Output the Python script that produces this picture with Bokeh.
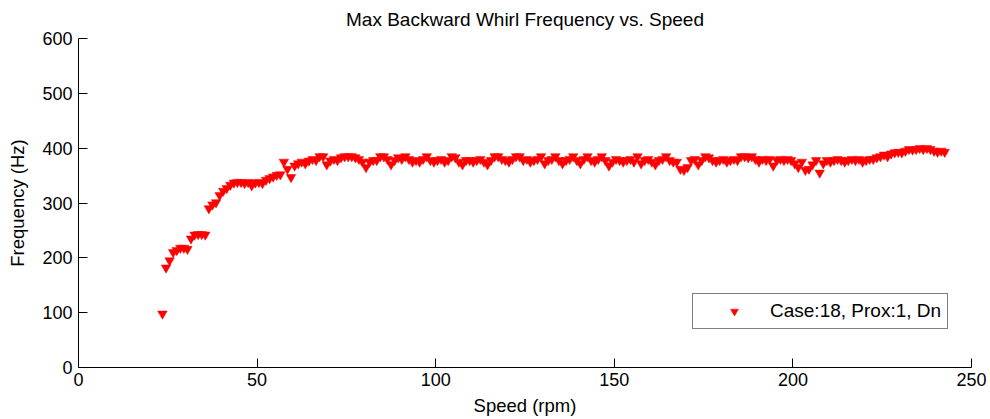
from bokeh.plotting import figure
from bokeh.models import Range1d, Legend, LegendItem, FixedTicker, ColumnDataSource
from bokeh.embed import file_html
from bokeh.resources import INLINE

title_text = "Max Backward Whirl Frequency vs. Speed"
x_label = "Speed (rpm)"
y_label = "Frequency (Hz)"
series_name = "Case:18, Prox:1, Dn"
x_ticks = [0, 50, 100, 150, 200, 250]
y_ticks = [0, 100, 200, 300, 400, 500, 600]

speed = [
    23.5, 24.5, 25.5, 26.5, 27.5, 28.5, 29.5, 30.5, 31.5, 32.5,
    33.5, 34.5, 35.5, 36.5, 37.5, 38.5, 39.5, 40.5, 41.5, 42.5,
    43.5, 44.5, 45.5, 46.5, 47.5, 48.5, 49.5, 50.5, 51.5, 52.5,
    53.5, 54.5, 55.5, 56.5, 57.5, 58.5, 59.5, 60.5, 61.5, 62.5,
    63.5, 64.5, 65.5, 66.5, 67.5, 68.5, 69.5, 70.5, 71.5, 72.5,
    73.5, 74.5, 75.5, 76.5, 77.5, 78.5, 79.5, 80.5, 81.5, 82.5,
    83.5, 84.5, 85.5, 86.5, 87.5, 88.5, 89.5, 90.5, 91.5, 92.5,
    93.5, 94.5, 95.5, 96.5, 97.5, 98.5, 99.5, 100.5, 101.5, 102.5,
    103.5, 104.5, 105.5, 106.5, 107.5, 108.5, 109.5, 110.5, 111.5, 112.5,
    113.5, 114.5, 115.5, 116.5, 117.5, 118.5, 119.5, 120.5, 121.5, 122.5,
    123.5, 124.5, 125.5, 126.5, 127.5, 128.5, 129.5, 130.5, 131.5, 132.5,
    133.5, 134.5, 135.5, 136.5, 137.5, 138.5, 139.5, 140.5, 141.5, 142.5,
    143.5, 144.5, 145.5, 146.5, 147.5, 148.5, 149.5, 150.5, 151.5, 152.5,
    153.5, 154.5, 155.5, 156.5, 157.5, 158.5, 159.5, 160.5, 161.5, 162.5,
    163.5, 164.5, 165.5, 166.5, 167.5, 168.5, 169.5, 170.5, 171.5, 172.5,
    173.5, 174.5, 175.5, 176.5, 177.5, 178.5, 179.5, 180.5, 181.5, 182.5,
    183.5, 184.5, 185.5, 186.5, 187.5, 188.5, 189.5, 190.5, 191.5, 192.5,
    193.5, 194.5, 195.5, 196.5, 197.5, 198.5, 199.5, 200.5, 201.5, 202.5,
    203.5, 204.5, 205.5, 206.5, 207.5, 208.5, 209.5, 210.5, 211.5, 212.5,
    213.5, 214.5, 215.5, 216.5, 217.5, 218.5, 219.5, 220.5, 221.5, 222.5,
    223.5, 224.5, 225.5, 226.5, 227.5, 228.5, 229.5, 230.5, 231.5, 232.5,
    233.5, 234.5, 235.5, 236.5, 237.5, 238.5, 239.5, 240.5, 241.5, 242.5,
]

freq = [
    98, 182, 195, 210, 214, 218, 218, 216, 235, 242,
    243, 243, 242, 290, 297, 301, 314, 322, 327, 333,
    337, 338, 338, 336, 338, 332, 337, 338, 336, 342,
    345, 348, 351, 352, 375, 362, 347, 368, 372, 375,
    372, 377, 380, 378, 385, 385, 370, 377, 380, 378,
    383, 385, 385, 385, 383, 380, 375, 365, 375, 378,
    378, 385, 385, 380, 370, 378, 383, 380, 385, 380,
    375, 378, 375, 380, 385, 378, 375, 378, 380, 375,
    378, 385, 383, 375, 370, 378, 378, 375, 378, 380,
    375, 370, 378, 385, 385, 380, 378, 375, 380, 385,
    385, 378, 380, 375, 378, 380, 385, 372, 378, 380,
    385, 378, 372, 378, 380, 385, 378, 372, 380, 385,
    378, 375, 380, 385, 378, 368, 375, 380, 378, 375,
    378, 380, 375, 385, 372, 378, 380, 375, 370, 378,
    380, 385, 378, 375, 375, 362, 360, 365, 378, 380,
    370, 378, 385, 383, 378, 375, 378, 380, 375, 378,
    380, 378, 385, 385, 383, 385, 380, 375, 380, 378,
    380, 368, 378, 380, 378, 380, 378, 372, 365, 375,
    360, 362, 370, 378, 355, 372, 378, 375, 378, 380,
    378, 375, 378, 380, 378, 380, 375, 378, 380, 380,
    383, 385, 388, 385, 390, 392, 393, 392, 395, 398,
    397, 398, 400, 398, 400, 398, 395, 393, 395, 393,
]

FONT = "Liberation Sans"

source = ColumnDataSource(data=dict(speed=speed, freq=freq))

p = figure(
    width=990, height=419, output_backend="svg", toolbar_location=None,
    x_range=Range1d(0, 250), y_range=Range1d(0, 600),
    min_border_left=78, min_border_right=19, min_border_top=38, min_border_bottom=52,
    title=title_text,
)
p.background_fill_color = "white"
p.border_fill_color = "white"
p.outline_line_color = None
p.xgrid.visible = False
p.ygrid.visible = False

p.title.align = "center"
p.title.vertical_align = "top"
p.title.text_font = FONT
p.title.text_font_size = "19px"
p.title.text_font_style = "normal"
p.title.text_color = "black"
p.title.standoff = 13

for ax in (p.xaxis[0], p.yaxis[0]):
    ax.axis_line_color = "black"
    ax.axis_line_width = 1
    ax.major_tick_line_color = "black"
    ax.major_tick_in = 9
    ax.major_tick_out = 0
    ax.minor_tick_line_color = None
    ax.major_label_text_font = FONT
    ax.major_label_text_font_size = "18px"
    ax.major_label_text_color = "black"
    ax.axis_label_text_font = FONT
    ax.axis_label_text_font_size = "18.5px"
    ax.axis_label_text_font_style = "normal"
    ax.axis_label_text_color = "black"

p.xaxis[0].ticker = FixedTicker(ticks=x_ticks)
p.yaxis[0].ticker = FixedTicker(ticks=y_ticks)
p.xaxis[0].axis_label = x_label
p.yaxis[0].axis_label = y_label
p.xaxis[0].major_label_standoff = 5
p.xaxis[0].axis_label_standoff = 6
p.yaxis[0].major_label_standoff = 6
p.yaxis[0].axis_label_standoff = 11

r = p.scatter(x="speed", y="freq", source=source, marker="inverted_triangle",
              size=9.5, fill_color="red", line_color="red", line_width=0.5)

legend = Legend(items=[LegendItem(label=series_name, renderers=[r])],
                location=(614, 38))
legend.border_line_color = "black"
legend.border_line_width = 1
legend.background_fill_color = "white"
legend.background_fill_alpha = 1.0
legend.padding = 6
legend.margin = 0
legend.spacing = 0
legend.glyph_width = 70
legend.glyph_height = 20
legend.label_standoff = 1
legend.label_text_font = FONT
legend.label_text_font_size = "19px"
legend.label_text_color = "black"
p.add_layout(legend, "center")

with open("out.html", "w") as f:
    f.write(file_html(p, INLINE))
